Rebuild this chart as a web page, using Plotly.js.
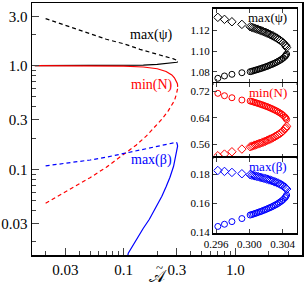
<!DOCTYPE html>
<html><head><meta charset="utf-8">
<script src="https://cdn.plot.ly/plotly-3.0.1.min.js"></script>
<style>html,body{margin:0;padding:0;background:#fff}#chart{width:305px;height:288px}</style>
</head><body><div id="chart"></div>
<script>
// ---- main panel data (A-tilde vs quantity) ----
const psiDashA = [0.02, 0.03, 0.05, 0.07, 0.1, 0.14, 0.2, 0.25, 0.28, 0.2962, 0.3001, 0.3025, 0.304, 0.3046];
const psiDash  = [2.85, 2.45, 2.03, 1.80, 1.63, 1.44, 1.29, 1.21, 1.165, 1.132, 1.123, 1.1165, 1.109, 1.100];
const psiSolidA = [0.016, 0.05, 0.1, 0.15, 0.2, 0.25, 0.28, 0.2962, 0.3001, 0.3025, 0.304, 0.3046];
const psiSolid  = [1.0, 1.0, 1.005, 1.015, 1.03, 1.048, 1.062, 1.074, 1.080, 1.086, 1.093, 1.100];
const nSolidA = [0.016, 0.05, 0.1, 0.15, 0.2, 0.24, 0.27, 0.285, 0.2962, 0.3001, 0.3025, 0.304, 0.3046];
const nSolid  = [1.0, 0.998, 0.99, 0.972, 0.935, 0.88, 0.815, 0.765, 0.713, 0.69, 0.674, 0.655, 0.625];
const nDashA = [0.02, 0.03, 0.05, 0.07, 0.1, 0.13, 0.16, 0.19, 0.22, 0.25, 0.27, 0.285, 0.2962, 0.3001, 0.3025, 0.304, 0.3046];
const nDash  = [0.047, 0.06, 0.083, 0.105, 0.138, 0.172, 0.21, 0.255, 0.305, 0.365, 0.415, 0.46, 0.526, 0.553, 0.573, 0.598, 0.625];
const bDashA = [0.02, 0.03, 0.05, 0.07, 0.1, 0.15, 0.2, 0.25, 0.28, 0.2962, 0.3001, 0.3025, 0.304, 0.3046];
const bDash  = [0.108, 0.114, 0.123, 0.131, 0.142, 0.155, 0.166, 0.175, 0.179, 0.1824, 0.1795, 0.1765, 0.1735, 0.168];
const bSolidA = [0.1003, 0.105, 0.11, 0.13, 0.15, 0.17, 0.2, 0.22, 0.24, 0.26, 0.28, 0.2962, 0.3001, 0.3025, 0.304, 0.3046];
const bSolid  = [0.008, 0.012, 0.0155, 0.021, 0.027, 0.033, 0.045, 0.055, 0.068, 0.084, 0.107, 0.1441, 0.1519, 0.157, 0.162, 0.168];

// ---- inset data ----
const insetA = [0.2962, 0.2970, 0.2979, 0.2991,
  0.3001, 0.3003, 0.3005, 0.3007, 0.3009, 0.3011, 0.3013, 0.3015, 0.3017, 0.3019, 0.3021, 0.3023,
  0.3025, 0.3027, 0.3029, 0.3031, 0.3033, 0.3035, 0.3037, 0.3039, 0.3041, 0.3043, 0.3044, 0.3045];
const psiUnstable = [1.1321, 1.1302, 1.1279, 1.1254, 1.1231, 1.1226, 1.1220, 1.1215, 1.1209, 1.1204, 1.1198, 1.1192, 1.1185, 1.1179, 1.1172, 1.1165, 1.1158, 1.1150, 1.1142, 1.1133, 1.1124, 1.1114, 1.1103, 1.1091, 1.1077, 1.1060, 1.1049, 1.1034];
const psiStable = [1.0740, 1.0762, 1.0778, 1.0793, 1.0803, 1.0807, 1.0812, 1.0817, 1.0821, 1.0826, 1.0831, 1.0836, 1.0842, 1.0847, 1.0853, 1.0859, 1.0866, 1.0872, 1.0879, 1.0886, 1.0894, 1.0903, 1.0912, 1.0922, 1.0934, 1.0949, 1.0959, 1.0971];
const nStable = [0.7131, 0.7059, 0.6999, 0.6930, 0.6900, 0.6886, 0.6870, 0.6855, 0.6839, 0.6824, 0.6806, 0.6790, 0.6772, 0.6754, 0.6735, 0.6715, 0.6694, 0.6672, 0.6649, 0.6625, 0.6600, 0.6572, 0.6541, 0.6507, 0.6467, 0.6418, 0.6387, 0.6347];
const nUnstable = [0.5259, 0.5310, 0.5379, 0.5460, 0.5530, 0.5546, 0.5563, 0.5580, 0.5598, 0.5615, 0.5634, 0.5652, 0.5672, 0.5692, 0.5714, 0.5735, 0.5759, 0.5782, 0.5808, 0.5835, 0.5863, 0.5894, 0.5928, 0.5966, 0.6010, 0.6064, 0.6099, 0.6143];
const bUnstable = [0.1824, 0.1818, 0.1811, 0.1802, 0.1795, 0.1792, 0.1790, 0.1787, 0.1784, 0.1781, 0.1778, 0.1775, 0.1772, 0.1769, 0.1766, 0.1762, 0.1759, 0.1755, 0.1751, 0.1746, 0.1742, 0.1737, 0.1731, 0.1725, 0.1718, 0.1710, 0.1704, 0.1697];
const bStable = [0.1441, 0.1456, 0.1474, 0.1495, 0.1519, 0.1523, 0.1526, 0.1530, 0.1534, 0.1538, 0.1542, 0.1546, 0.1551, 0.1555, 0.1560, 0.1565, 0.1570, 0.1575, 0.1581, 0.1587, 0.1593, 0.1600, 0.1608, 0.1616, 0.1626, 0.1638, 0.1646, 0.1656];

// ---- tick labels ----
const mainXTicks = [0.03, 0.1, 0.3, 1];
const mainXText = ['0.03', '0.1', '0.3', '1.0'];
const mainXMinor = [0.02, 0.04, 0.05, 0.06, 0.07, 0.08, 0.09, 0.2, 0.4, 0.5, 0.6, 0.7, 0.8, 0.9, 2, 3];
const mainYTicks = [0.03, 0.1, 0.3, 1, 3];
const mainYText = ['0.03', '0.1', '0.3', '1.0', '3.0'];
const mainYMinor = [0.02, 0.04, 0.05, 0.06, 0.07, 0.08, 0.09, 0.2, 0.4, 0.5, 0.6, 0.7, 0.8, 0.9, 2];
const insetXTicks = [0.296, 0.300, 0.304];
const insetXText = ['0.296', '0.300', '0.304'];
const psiTicks = [1.08, 1.10, 1.12], psiText = ['1.08', '1.10', '1.12'];
const nTicks = [0.56, 0.64, 0.72], nText = ['0.56', '0.64', '0.72'];
const bTicks = [0.14, 0.16, 0.18], bText = ['0.14', '0.16', '0.18'];

const SERIF = 'Liberation Serif, Times New Roman, serif';
const BLK = '#000000', RED = '#ff0000', BLU = '#0000ff';

function line(x, y, color, dash) {
  return {x, y, type: 'scatter', mode: 'lines', xaxis: 'x', yaxis: 'y',
    line: {color, width: 1.2, dash: dash ? '4px,3px' : 'solid'}, hoverinfo: 'skip'};
}
function pts(x, y, color, sym, ax) {
  return {x, y, type: 'scatter', mode: 'markers', xaxis: 'x' + ax, yaxis: 'y' + ax,
    marker: {symbol: sym, size: sym === 'diamond-open' ? 6.5 : 6, color, line: {color, width: 1}}, hoverinfo: 'skip'};
}

const traces = [
  line(psiDashA, psiDash, BLK, true),
  line(psiSolidA, psiSolid, BLK, false),
  line(nDashA, nDash, RED, true),
  line(nSolidA, nSolid, RED, false),
  line(bDashA, bDash, BLU, true),
  line(bSolidA, bSolid, BLU, false),
  pts(insetA, psiUnstable, BLK, 'diamond-open', 2),
  pts(insetA, psiStable, BLK, 'circle-open', 2),
  pts(insetA, nStable, RED, 'circle-open', 3),
  pts(insetA, nUnstable, RED, 'diamond-open', 3),
  pts(insetA, bUnstable, BLU, 'diamond-open', 4),
  pts(insetA, bStable, BLU, 'circle-open', 4)
];

const frame = {showline: true, linewidth: 1.5, linecolor: BLK, showgrid: false, zeroline: false};
const tf = {family: SERIF, size: 15, color: BLK};
const tfi = {family: SERIF, size: 11, color: BLK};
const ixDom = [0.672, 0.98];
function insetX(anchor, labels) {
  return Object.assign({}, frame, {domain: ixDom, anchor, range: [0.29567, 0.3057], mirror: 'ticks',
    ticks: 'inside', ticklen: 4, tickwidth: 1, tickmode: 'array', tickvals: insetXTicks, ticktext: insetXText,
    showticklabels: labels, tickfont: tfi});
}
function insetY(anchor, dom, rng, tv, tt) {
  return Object.assign({}, frame, {domain: dom, anchor, range: rng, mirror: 'ticks',
    ticks: 'inside', ticklen: 4, tickwidth: 1, tickmode: 'array', tickvals: tv, ticktext: tt, tickfont: tfi});
}
function label(x, y, text, size, color) {
  return {xref: 'paper', yref: 'paper', x, y, text, showarrow: false, xanchor: 'center', yanchor: 'middle',
    font: {family: SERIF, size, color}};
}

const layout = {
  width: 305, height: 288,
  margin: {l: 32, r: 3, t: 3, b: 33},
  paper_bgcolor: '#ffffff', plot_bgcolor: '#ffffff',
  showlegend: false,
  xaxis: Object.assign({}, frame, {type: 'log', range: [Math.log10(0.0151), Math.log10(3.96)], domain: [0, 1], anchor: 'y',
    mirror: true, ticks: 'inside', ticklen: 7, tickwidth: 1, tickmode: 'array', tickvals: mainXTicks, ticktext: mainXText,
    tickfont: tf, minor: {tickmode: 'array', tickvals: mainXMinor, ticks: 'inside', ticklen: 4, tickwidth: 1, showgrid: false}}),
  yaxis: Object.assign({}, frame, {type: 'log', range: [Math.log10(0.0149), Math.log10(4.03)], domain: [0, 1], anchor: 'x',
    mirror: true, ticks: 'inside', ticklen: 7, tickwidth: 1, tickmode: 'array', tickvals: mainYTicks, ticktext: mainYText,
    tickfont: tf, minor: {tickmode: 'array', tickvals: mainYMinor, ticks: 'inside', ticklen: 4, tickwidth: 1, showgrid: false}}),
  xaxis2: insetX('y2', false),
  yaxis2: insetY('x2', [0.6825, 0.978], [1.0695, 1.1405], psiTicks, psiText),
  xaxis3: insetX('y3', false),
  yaxis3: insetY('x3', [0.385, 0.6825], [0.5193, 0.744], nTicks, nText),
  xaxis4: insetX('y4', true),
  yaxis4: insetY('x4', [0.0873, 0.385], [0.1396, 0.191], bTicks, bText),
  annotations: [
    label(0.444, 0.8734, 'max(ψ)', 14, BLK),
    label(0.443, 0.6746, 'min(N)', 14, RED),
    label(0.443, 0.377, 'max(β)', 14, BLU),
    label(0.872, 0.942, 'max(ψ)', 13, BLK),
    label(0.874, 0.6468, 'min(N)', 13, RED),
    label(0.874, 0.352, 'max(β)', 13, BLU),
    label(0.465, -0.0873, '𝒜', 17, BLK),
    label(0.473, -0.05, '~', 13, BLK)
  ]
};

Plotly.newPlot('chart', traces, layout, {staticPlot: true, displayModeBar: false});
</script></body></html>
